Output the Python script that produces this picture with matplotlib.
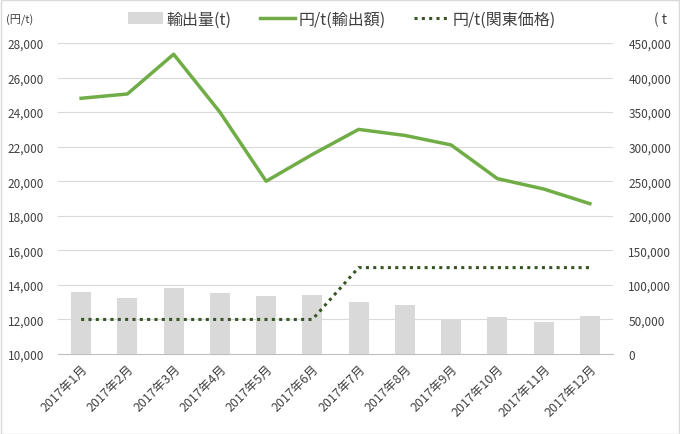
import matplotlib.pyplot as plt
from matplotlib import ticker

plt.rcParams['font.family'] = ['Noto Sans CJK JP', 'DejaVu Sans']

months = [f"2017年{m}月" for m in range(1, 13)]
export_volume = [89600, 80900, 95400, 88200, 83800, 85300,
                 75100, 70800, 49100, 53500, 46200, 54900]
export_price = [24800, 25050, 27350, 24000, 20000, 21550,
                23000, 22650, 22100, 20150, 19550, 18700]
kanto_price = [12000, 12000, 12000, 12000, 12000, 12000,
               15000, 15000, 15000, 15000, 15000, 15000]

fig = plt.figure(figsize=(6.8, 4.35), dpi=100)
ax = fig.add_axes([58 / 680, 1 - 355 / 435, (613 - 58) / 680, (355 - 44) / 435])
ax2 = ax.twinx()

x = list(range(len(months)))
bars = ax2.bar(x, export_volume, width=0.43, color="#D9D9D9", zorder=1, label="輸出量(t)")
ax2.set_ylim(0, 450000)
ax2.yaxis.set_major_locator(ticker.MultipleLocator(50000))
ax2.yaxis.set_major_formatter(ticker.StrMethodFormatter("{x:,.0f}"))

ax.set_zorder(ax2.get_zorder() + 1)
ax.patch.set_visible(False)
l1, = ax.plot(x, export_price, color="#70AD47", lw=2.5, label="円/t(輸出額)", zorder=3)
l2, = ax.plot(x, kanto_price, color="#375623", lw=2.2, ls=(0, (1, 1.4)), label="円/t(関東価格)", zorder=3)
ax.set_ylim(10000, 28000)
ax.yaxis.set_major_locator(ticker.MultipleLocator(2000))
ax.yaxis.set_major_formatter(ticker.StrMethodFormatter("{x:,.0f}"))
ax.set_xlim(-0.5, 11.5)

ax2.grid(False)
for v in range(12000, 28001, 2000):
    ax2.axhline((v - 10000) / 18000 * 450000, color="#D9D9D9", lw=0.8, zorder=0)

for a in (ax, ax2):
    for s in a.spines.values():
        s.set_visible(False)
    a.tick_params(axis="y", length=0, labelsize=8.5, colors="#404040")
ax.tick_params(axis="y", pad=10)
ax2.tick_params(axis="y", pad=11)

ax.spines["bottom"].set_visible(True)
ax.spines["bottom"].set_color("#BFBFBF")
ax.set_xticks([i - 0.5 for i in range(13)], minor=False)
ax.set_xticklabels([])
ax.tick_params(axis="x", which="major", length=4, color="#BFBFBF")
ax.set_xticks(x, minor=True)
ax.set_xticklabels(months, minor=True, rotation=45, ha="right", rotation_mode="anchor")
ax.tick_params(axis="x", which="minor", length=0, labelsize=9, colors="#404040", pad=6)
ax2.set_xticks([])

fig.text(6 / 680, 1 - 20 / 435, "(円/t)", fontsize=8, color="#404040", va="center")
fig.text(654 / 680, 1 - 20 / 435, "( t", fontsize=10, color="#404040", va="center")

fig.legend(handles=[bars, l1, l2], loc="center", bbox_to_anchor=(342 / 680, 1 - 20 / 435),
           ncol=3, frameon=False, fontsize=11.5, handlelength=2.2, columnspacing=1.8,
           handletextpad=0.2, labelcolor="#404040")

fig.patches.append(plt.Rectangle((0.001, 0.001), 0.997, 0.997, transform=fig.transFigure,
                                 fill=False, edgecolor="#D9D9D9", lw=1))

fig.savefig("out.png", dpi=100)
